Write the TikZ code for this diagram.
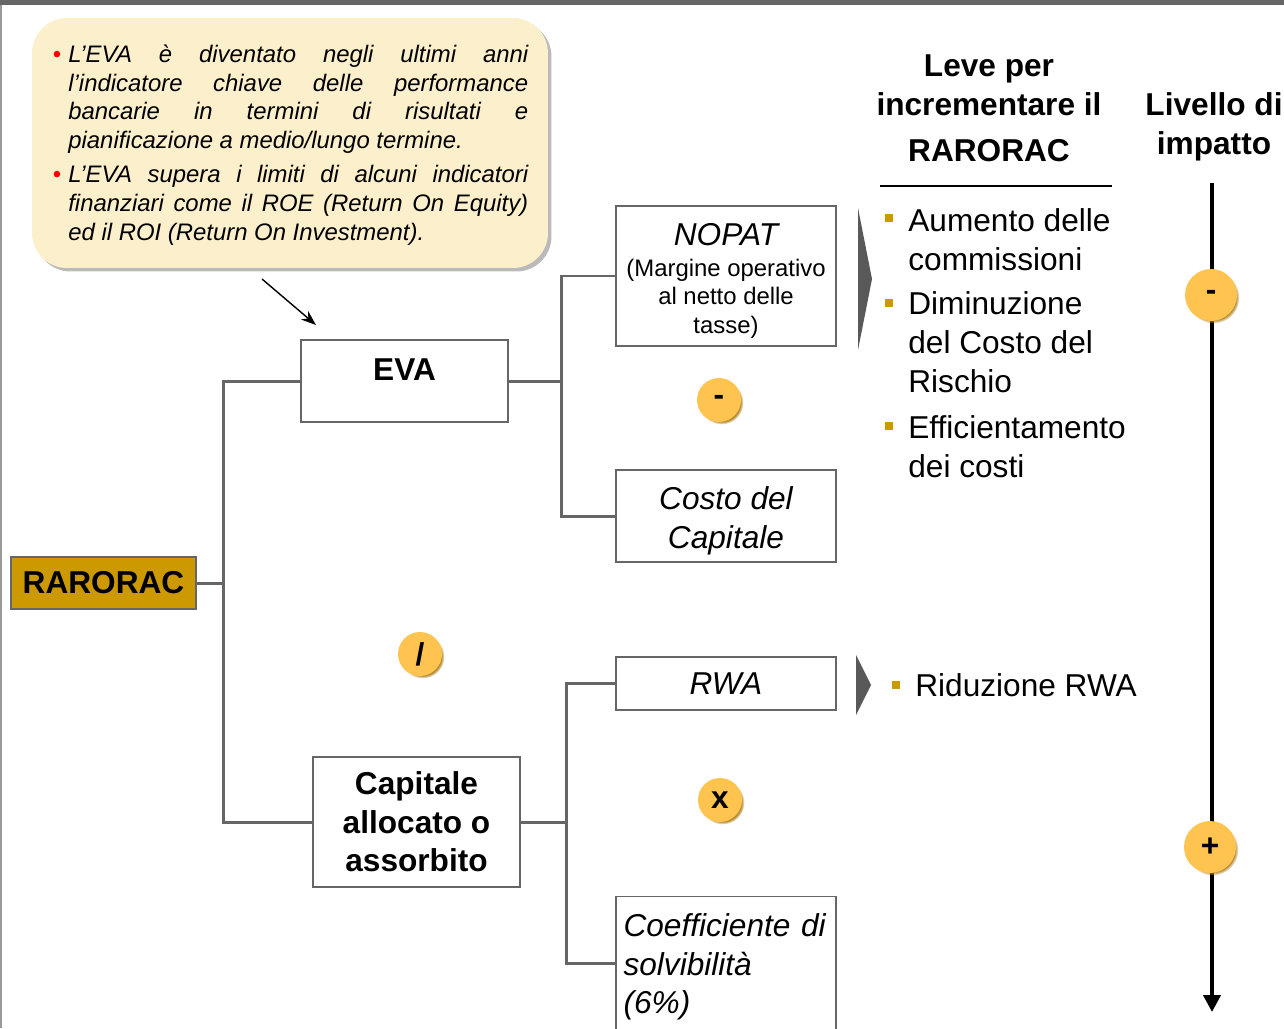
\documentclass[tikz,border=0pt]{standalone}
\usepackage{fontspec}
\setmainfont{Liberation Sans}
\usepackage{xcolor}
\usepackage{tikz}
\usetikzlibrary{arrows.meta,positioning,shadows}
\definecolor{boxgray}{HTML}{666666}
\definecolor{gold}{HTML}{CC9900}
\definecolor{notefill}{HTML}{FCEFCB}
\definecolor{opfill}{HTML}{FFC34F}
\definecolor{opshade}{HTML}{B3862B}
\newcommand{\fbig}{\fontsize{18}{22}\selectfont}
\newcommand{\fsm}{\fontsize{13.6}{16.4}\selectfont}
\newcommand{\jline}[1]{\makebox[9.2cm][s]{#1}}
\newcommand{\rbul}{\llap{\textcolor{red}{\upshape•}\hspace{4pt}}}

\begin{document}
\begin{tikzpicture}[x=.02cm,y=-.02cm,font=\fbig,b/.style={draw=boxgray,line width=1pt,align=center,inner sep=0pt},ln/.style={draw=boxgray,line width=1.7pt},op/.style={circle,fill=opfill,minimum size=.88cm,inner sep=0pt,font=\fbig\bfseries,circular drop shadow={fill=opshade,opacity=1,shadow xshift=.05cm,shadow yshift=-.05cm,shadow scale=1}},sq/.style={fill=gold,minimum size=.16cm,inner sep=0pt},t/.style={anchor=base west,align=left,inner sep=0pt},chev/.style={fill=black!65}]
\useasboundingbox (0,0) rectangle (1284,1028);
\fill[black!60] (0,0) rectangle (1284,5);\draw[black!40,line width=.6pt] (1,5)--(1,1028);
% note (anchors of multi-line texts are on their last line)
\node[fill=notefill,rounded corners=.7cm,minimum width=10.32cm,minimum height=5cm,drop shadow={fill=black!45,opacity=.6,shadow xshift=.07cm,shadow yshift=-.07cm}] (note) at (290,143) {};
\node[t,font=\fsm\itshape] (txt) at (68,240.5) {\rbul\jline{L’EVA è diventato negli ultimi anni}\\\jline{l’indicatore chiave delle performance}\\\jline{bancarie in termini di risultati e}\\pianificazione a medio/lungo termine.\\[3pt]\rbul\jline{L’EVA supera i limiti di alcuni indicatori}\\\jline{finanziari come il ROE (Return On Equity)}\\ed il ROI (Return On Investment).};
\coordinate (p1) at (262,279);\coordinate (p2) at (316,325);
\draw[-{Stealth[length=.3cm,width=.22cm]},line width=.8pt] (p1)--(p2);
% tree
\node[b,fill=gold,font=\fbig\bfseries,minimum width=3.7cm,minimum height=1.04cm] (rar) at (103.5,583) {RARORAC};
\node[b,font=\fbig\bfseries,minimum width=4.14cm,minimum height=1.64cm,text height=.46cm,text depth=.48cm] (eva) at (404.5,381) {EVA};
\node[b,font=\fbig\bfseries,minimum width=4.14cm,minimum height=2.6cm] (cap) at (416.5,822) {Capitale\\allocato o\\assorbito};
\node[b,font=\fsm,minimum width=4.4cm,minimum height=2.8cm,text height=69pt,text depth=3.4pt] (nopat) at (726,276) {{\fbig\itshape NOPAT}\\[1pt](Margine operativo\\al netto delle\\tasse)};
\node[b,font=\fbig\itshape,minimum width=4.4cm,minimum height=1.84cm,text height=40.7pt,text depth=3.8pt] (costo) at (726,516) {Costo del\\Capitale};
\node[b,font=\fbig\itshape,minimum width=4.4cm,minimum height=1.06cm] (rwa) at (726,683.5) {RWA};
\node[b,font=\fbig\itshape,minimum width=4.4cm,minimum height=2.66cm,align=left,text width=4.1cm,text height=17.7pt,text depth=47.8pt] (coef) at (726,963) {Coefficiente di\\solvibilità\\(6\%)};
\draw[ln] (rar.east)--++(28,0);
\draw[ln] (eva.west)--++(-77,0)|-(cap.west);
\draw[ln] (eva.east)--++(54,0);\draw[ln] (nopat.west)--++(-54,0)|-(costo.west);
\draw[ln] (cap.east)--++(47,0);\draw[ln] (rwa.west)--++(-49,0)|-(coef.west);
\node[op] (o1) at (719,400) {-};
\node[op] (o2) at (420,654) {/};
\node[op] (o3) at (720,800) {x};
% levers
\fill[chev] (858,208)--(872,279)--(858,350)--cycle;
\fill[chev] (856,655)--(871,685)--(856,715)--cycle;
\node[anchor=base,align=center,font=\fbig\bfseries] (lev) at (989,161) {Leve per\\incrementare il\\[4pt]RARORAC};
\node[anchor=base,align=center,font=\fbig\bfseries] (liv) at (1214,154) {Livello di\\impatto};
\draw[line width=1.7pt] (880,186)--(1112,186);
\node[sq] (s1) at (889,218) {};\node[t] (l1) at (908,270) {Aumento delle\\commissioni};
\node[sq] (s2) at (889,303) {};\node[t] (l2) at (908,392) {Diminuzione\\del Costo del\\Rischio};
\node[sq] (s3) at (889,426) {};\node[t] (l3) at (908,477) {Efficientamento\\dei costi};
\node[sq] (s4) at (896,685) {};\node[t] (l4) at (915,696) {Riduzione RWA};
% impact axis
\coordinate (ax1) at (1212,183);\coordinate (ax2) at (1212,1012);
\draw[line width=2.3pt,-{Triangle[length=.34cm,width=.34cm]}] (ax1)--(ax2);
\node[op,minimum size=1.04cm] (o4) at (1211,295) {-};
\node[op,minimum size=1.04cm] (o5) at (1210,847) {+};
\end{tikzpicture}
\end{document}
